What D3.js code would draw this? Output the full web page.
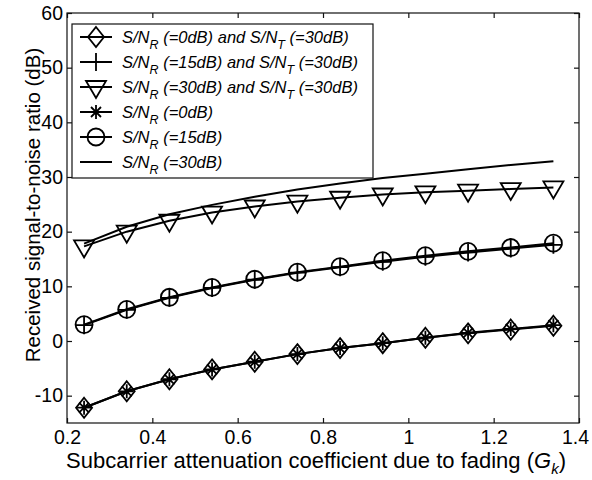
<!DOCTYPE html>
<html><head><meta charset="utf-8">
<script src="https://cdn.jsdelivr.net/npm/d3@7"></script>
<style>
body{margin:0;background:#fff;}
svg{display:block;font-family:"Liberation Sans",Arial,sans-serif;}
</style></head>
<body>
<svg id="c" width="592" height="480"></svg>
<script>
// ---- data ----
const gk = [0.24,0.34,0.44,0.54,0.64,0.74,0.84,0.94,1.04,1.14,1.24,1.34];
const snr0_30  = [-12.2,-9.2,-7.0,-5.2,-3.8,-2.4,-1.3,-0.4,0.6,1.4,2.1,2.8];
const snr15_30 = [2.9,5.7,7.9,9.7,11.2,12.5,13.5,14.5,15.4,16.2,16.9,17.6];
const snr30_30 = [17.3,20.0,22.0,23.5,24.6,25.5,26.2,26.8,27.2,27.5,27.8,28.1];
const snr0     = [-12.2,-9.2,-7.0,-5.2,-3.8,-2.4,-1.3,-0.4,0.6,1.5,2.2,2.9];
const snr15    = [3.0,5.8,8.0,9.8,11.3,12.6,13.6,14.7,15.6,16.4,17.1,17.9];
const snr30    = [17.8,20.9,23.2,24.9,26.4,27.7,28.8,29.8,30.6,31.4,32.2,32.9];
const xTicks = [0.2,0.4,0.6,0.8,1,1.2,1.4];
const yTicks = [-10,0,10,20,30,40,50,60];
const series = [
  {vals:snr0_30,  mark:"diamond", label:["S/N","R"," (=0dB) and  S/N","T"," (=30dB)"]},
  {vals:snr15_30, mark:"plus",    label:["S/N","R"," (=15dB) and S/N","T"," (=30dB)"]},
  {vals:snr30_30, mark:"tri",     label:["S/N","R"," (=30dB) and S/N","T"," (=30dB)"]},
  {vals:snr0,     mark:"star",    label:["S/N","R"," (=0dB)"]},
  {vals:snr15,    mark:"circle",  label:["S/N","R"," (=15dB)"]},
  {vals:snr30,    mark:"none",    label:["S/N","R"," (=30dB)"]}
];

const L=67,R=579,T=13,B=423;
const svg=d3.select("#c");
const x=d3.scaleLinear().domain([0.2,1.4]).range([L,R]);
const y=d3.scaleLinear().domain([-15,60]).range([B,T]);

// axes box
svg.append("rect").attr("x",L).attr("y",T).attr("width",R-L).attr("height",B-T)
  .attr("fill","none").attr("stroke","#111").attr("stroke-width",1.2);

const fmtX=d=>d===1?"1":d3.format(".1f")(d);
const fmtY=d=>String(d);
const ax=svg.append("g").attr("transform",`translate(0,${B})`)
  .call(d3.axisBottom(x).tickValues(xTicks).tickSize(-5).tickPadding(7).tickFormat(fmtX));
const axT=svg.append("g").attr("transform",`translate(0,${T})`)
  .call(d3.axisTop(x).tickValues(xTicks).tickSize(-5).tickFormat(""));
const ay=svg.append("g").attr("transform",`translate(${L},0)`)
  .call(d3.axisLeft(y).tickValues(yTicks).tickSize(-5).tickPadding(4).tickFormat(fmtY));
const ayR=svg.append("g").attr("transform",`translate(${R},0)`)
  .call(d3.axisRight(y).tickValues(yTicks).tickSize(-5).tickFormat(""));
[ax,axT,ay,ayR].forEach(g=>{
  g.select(".domain").remove();
  g.selectAll("line").attr("stroke","#111").attr("stroke-width",1.2);
  g.selectAll("text").attr("font-size",19.5).attr("fill","#000")
   .attr("font-family","'Liberation Sans',Arial,sans-serif");
});
// keep last x label inside the page
ax.selectAll(".tick text").filter(d=>d===1.4).attr("dx",-4);

// marker drawing
function marker(g,type){
  const s={fill:"none",stroke:"#000","stroke-width":1.8};
  const ap=(e)=>{for(const k in s)e.attr(k,s[k]);return e;};
  if(type==="diamond") ap(g.append("path").attr("d","M0,-10L8,0L0,10L-8,0Z"));
  if(type==="plus"){ap(g.append("path").attr("d","M-9,0H9M0,-9V9"));}
  if(type==="tri") ap(g.append("path").attr("d","M-10,-6L10,-6L0,11Z"));
  if(type==="star") ap(g.append("path").attr("d","M-7,0H7M0,-7V7M-5,-5L5,5M-5,5L5,-5"));
  if(type==="circle") ap(g.append("circle").attr("r",8.5));
}

const line=d3.line().x((d,i)=>x(gk[i])).y(d=>y(d));
series.forEach(s=>{
  svg.append("path").datum(s.vals).attr("d",line)
    .attr("fill","none").attr("stroke","#000").attr("stroke-width",2);
});
series.forEach(s=>{
  if(s.mark==="none")return;
  s.vals.forEach((v,i)=>{
    const g=svg.append("g").attr("transform",`translate(${x(gk[i])},${y(v)})`);
    marker(g,s.mark);
  });
});

// legend
const lg=svg.append("g");
lg.append("rect").attr("x",72).attr("y",24).attr("width",301).attr("height",154)
  .attr("fill","#fff").attr("stroke","#111").attr("stroke-width",1.2);
series.forEach((s,i)=>{
  const cy=37+i*25;
  lg.append("line").attr("x1",80).attr("x2",112).attr("y1",cy).attr("y2",cy)
    .attr("stroke","#000").attr("stroke-width",2);
  if(s.mark!=="none"){marker(lg.append("g").attr("transform",`translate(96,${cy})`),s.mark);}
  const t=lg.append("text").attr("x",122).attr("y",cy+6).attr("font-size",16.5)
    .attr("font-style","italic").attr("fill","#000");
  s.label.forEach((part,j)=>{
    const sub=(j%2===1);
    t.append("tspan").text(part).attr("font-size",sub?12.5:16.5)
      .attr("dy",sub?6:(j>0?-6:0));
  });
});

// axis labels
svg.append("text").attr("x",316).attr("y",468).attr("text-anchor","middle")
  .attr("font-size",22).attr("fill","#000")
  .call(t=>{
    t.append("tspan").text("Subcarrier attenuation coefficient due to fading (");
    t.append("tspan").text("G").attr("font-style","italic");
    t.append("tspan").text("k").attr("font-style","italic").attr("font-size",15).attr("dy",6);
    t.append("tspan").text(")").attr("dy",-6);
  });
svg.append("text").attr("transform","translate(40,205) rotate(-90)")
  .attr("text-anchor","middle").attr("font-size",20.5).attr("fill","#000")
  .text("Received signal-to-noise ratio (dB)");
</script>
</body></html>
